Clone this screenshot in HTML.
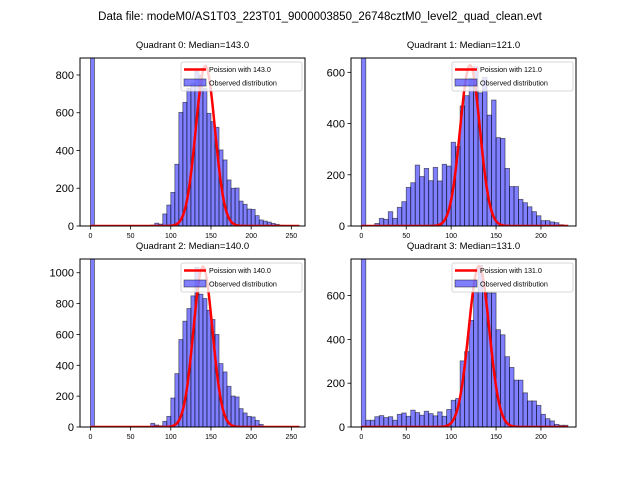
<!DOCTYPE html>
<html><head><meta charset="utf-8"><style>
body{margin:0;background:#fff;}
svg{display:block;font-family:"Liberation Sans","DejaVu Sans",sans-serif;}
</style></head><body>
<svg id="fig" width="640" height="480" viewBox="0 0 640 480">
<rect width="640" height="480" fill="#fff"/>
<text x="320" y="20" font-size="11.5" text-anchor="middle">Data file: modeM0/AS1T03_223T01_9000003850_26748cztM0_level2_quad_clean.evt</text>
</svg>
<script>
// bin counts (bin width 5, starting at 0)
const q0Counts=[2000,0,0,0,0,0,0,0,0,0,0,0,0,2,3,5,15,10,64,111,178,327,602,655,729,756,820,800,730,597,553,523,403,350,244,200,201,132,115,90,88,55,32,26,21,14,9,4,2,0,0,0];
const q1Counts=[1500,0,0,10,30,26,56,30,73,95,151,169,238,193,225,177,229,176,241,234,327,310,469,509,577,622,520,580,433,492,345,342,225,154,154,104,91,75,56,40,21,21,16,13,5,3];
const q2Counts=[2000,0,0,0,0,0,0,0,0,0,0,0,0,0,0,24,13,8,37,69,188,346,567,686,768,850,1035,861,833,757,697,600,411,357,264,201,195,119,91,69,65,43,17,3,0,0,0,0,0,0,0,0];
const q3Counts=[1500,31,31,47,52,43,47,31,58,64,49,77,66,54,72,61,51,69,49,80,122,130,302,344,487,615,738,615,612,612,444,421,321,272,214,214,156,119,119,99,58,38,28,12,8,8];
const medians=[143.0,121.0,140.0,131.0];
const poissonPeaks=[848,628,1039,735];
const curveEnds=[260,230,260,230];
const yTicks=[[0,200,400,600,800],[0,200,400,600],[0,200,400,600,800,1000],[0,200,400,600]];
const xTicks=[[0,50,100,150,200,250],[0,50,100,150,200],[0,50,100,150,200,250],[0,50,100,150,200]];
const binWidth=5;

const NS="http://www.w3.org/2000/svg";
const fig=document.getElementById('fig');
function mk(tag,attrs,parent){const e=document.createElementNS(NS,tag);for(const k in attrs)e.setAttribute(k,attrs[k]);(parent||fig).appendChild(e);return e;}
const panels=[
 {x0:80,x1:305,y0:58,y1:226,xmin:-13,xmax:267,ymax:890,counts:q0Counts},
 {x0:351,x1:576,y0:58,y1:226,xmin:-11.5,xmax:239,ymax:656,counts:q1Counts},
 {x0:80,x1:305,y0:259,y1:427,xmin:-13,xmax:267,ymax:1089,counts:q2Counts},
 {x0:351,x1:576,y0:259,y1:427,xmin:-11.5,xmax:239,ymax:767,counts:q3Counts}
];
panels.forEach((p,i)=>{
  const sx=v=>p.x0+(v-p.xmin)/(p.xmax-p.xmin)*(p.x1-p.x0);
  const sy=v=>p.y1-v/p.ymax*(p.y1-p.y0);
  const g=mk('g',{});
  
  
  const cp=mk('clipPath',{id:'clip'+i},g);
  mk('rect',{x:p.x0,y:p.y0,width:p.x1-p.x0,height:p.y1-p.y0},cp);
  const t=mk('text',{x:(p.x0+p.x1)/2,y:p.y0-10,'font-size':'9.5','text-anchor':'middle'},g);
  t.textContent='Quadrant '+i+': Median='+medians[i].toFixed(1);
  
  
  const bars=mk('g',{'clip-path':'url(#clip'+i+')'},g);
  p.counts.forEach((c,k)=>{
    if(c<=0)return;
    const x=sx(k*binWidth),w=sx((k+1)*binWidth)-x;
    const r=mk('rect',{x:x,y:sy(c),width:w,height:sy(0)-sy(c),fill:'rgba(0,0,255,0.5)',stroke:'rgba(0,0,0,0.55)','stroke-width':'0.8'},bars);
    
    
  });
  const lam=medians[i];let d='';
  for(let v=0;v<=curveEnds[i];v+=1){
    const y=poissonPeaks[i]*Math.exp(-(v-lam)*(v-lam)/(2*lam));
    d+=(v?'L':'M')+sx(v).toFixed(2)+' '+sy(y).toFixed(2);
  }
  const ln=mk('path',{d:d,fill:'none',stroke:'#ff0000','stroke-width':'2.5'},bars);
  
  
  const ax=mk('rect',{x:p.x0,y:p.y0,width:p.x1-p.x0,height:p.y1-p.y0,fill:'none',stroke:'#000','stroke-width':'1'},g);
  
  
  yTicks[i].forEach(v=>{
    mk('line',{x1:p.x0-3.5,x2:p.x0,y1:sy(v),y2:sy(v),stroke:'#000','stroke-width':'0.8'},g);
    const tt=mk('text',{x:p.x0-6,y:sy(v)+4,'font-size':'11','text-anchor':'end'},g);
    tt.textContent=v;
    
    
  });
  xTicks[i].forEach(v=>{
    mk('line',{x1:sx(v),x2:sx(v),y1:p.y1,y2:p.y1+3.5,stroke:'#000','stroke-width':'0.8'},g);
    const tt=mk('text',{x:sx(v),y:p.y1+12,'font-size':'7','text-anchor':'middle'},g);
    tt.textContent=v;
    
    
  });
  const lg=mk('g',{},g);
  
  
  const lx=p.x1-124,ly=p.y0+4;
  mk('rect',{x:lx,y:ly,width:121,height:29,rx:2,fill:'rgba(255,255,255,0.8)',stroke:'#ccc','stroke-width':'0.8'},lg);
  mk('line',{x1:lx+3,x2:lx+25,y1:ly+7.5,y2:ly+7.5,stroke:'#ff0000','stroke-width':'2.5'},lg);
  const l1=mk('text',{x:lx+28,y:ly+10,'font-size':'7.2'},lg);l1.textContent='Poission with '+lam.toFixed(1);
  
  
  mk('rect',{x:lx+3,y:ly+17,width:22,height:7,fill:'rgba(0,0,255,0.5)',stroke:'rgba(0,0,0,0.55)','stroke-width':'0.8'},lg);
  const l2=mk('text',{x:lx+28,y:ly+23.5,'font-size':'7.2'},lg);l2.textContent='Observed distribution';
  
  
});
</script>
</body></html>
